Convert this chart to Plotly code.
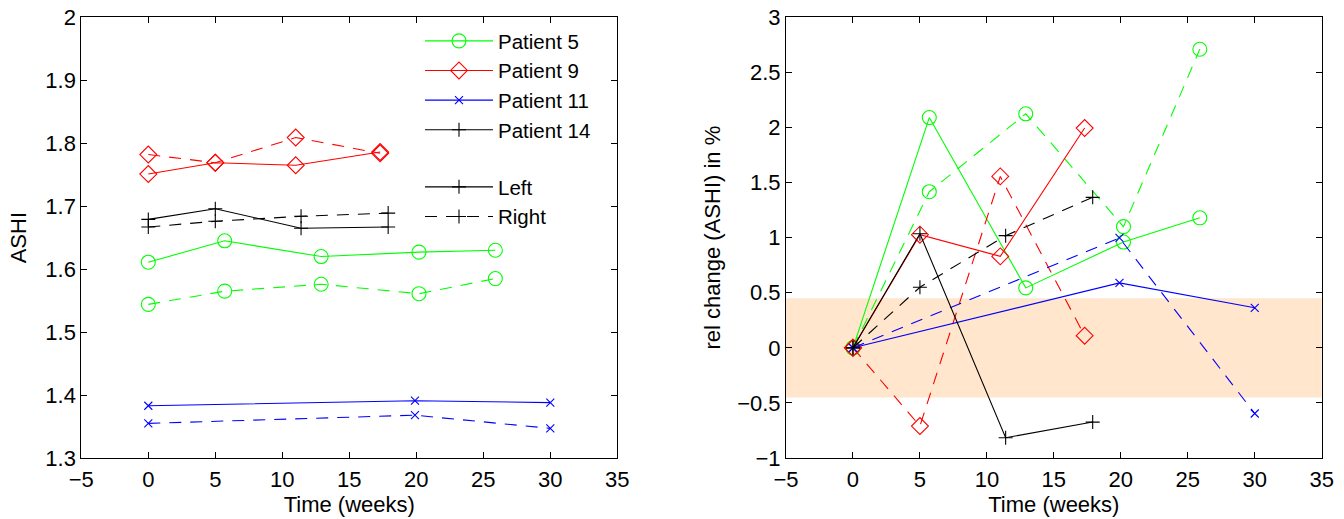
import plotly.graph_objects as go

# ---------------- data ----------------
P5_WEEKS = [0, 5.7, 12.9, 20.2, 25.9]
P9_WEEKS = [0, 5.0, 11.0, 17.3]
P11_WEEKS = [0, 19.9, 30.0]
P14_WEEKS = [0, 5.0, 11.4, 17.9]

P5_ASHI_LEFT = [1.611, 1.645, 1.620, 1.627, 1.630]
P5_ASHI_RIGHT = [1.544, 1.565, 1.576, 1.561, 1.585]
P9_ASHI_LEFT = [1.751, 1.769, 1.765, 1.786]
P9_ASHI_RIGHT = [1.782, 1.769, 1.809, 1.784]
P11_ASHI_LEFT = [1.383, 1.391, 1.388]
P11_ASHI_RIGHT = [1.355, 1.368, 1.347]
P14_ASHI_LEFT = [1.679, 1.696, 1.665, 1.667]
P14_ASHI_RIGHT = [1.667, 1.676, 1.684, 1.689]

P5_REL_LEFT = [0, 2.09, 0.544, 0.96, 1.18]
P5_REL_RIGHT = [0, 1.417, 2.124, 1.10, 2.71]
P9_REL_LEFT = [0, 1.027, 0.83, 1.995]
P9_REL_RIGHT = [0, -0.71, 1.556, 0.11]
P11_REL_LEFT = [0, 0.589, 0.363]
P11_REL_RIGHT = [0, 0.997, -0.596]
P14_REL_LEFT = [0, 1.036, -0.816, -0.674]
P14_REL_RIGHT = [0, 0.55, 1.018, 1.366]

BAND = [-0.45, 0.45]

PATIENTS = ["Patient 5", "Patient 9", "Patient 11", "Patient 14"]
X_RANGE = [-5, 35]
ASHI_RANGE = [1.3, 2.0]
REL_RANGE = [-1, 3]

# ---------------- styles ----------------
FONT = "Liberation Sans, Arial, sans-serif"
FS = 22
LFS = 20.5
DASH = "12px,9px"
LW = 1.1
STY = {
    "Patient 5": dict(color="rgb(0,255,0)", symbol="circle-open", size=14),
    "Patient 9": dict(color="rgb(255,0,0)", symbol="diamond-open", size=13),
    "Patient 11": dict(color="rgb(0,0,255)", symbol="x-thin-open", size=8),
    "Patient 14": dict(color="rgb(0,0,0)", symbol="cross-thin-open", size=10),
}

series = [
    ("Patient 5", P5_WEEKS, P5_ASHI_LEFT, P5_ASHI_RIGHT, P5_REL_LEFT, P5_REL_RIGHT),
    ("Patient 9", P9_WEEKS, P9_ASHI_LEFT, P9_ASHI_RIGHT, P9_REL_LEFT, P9_REL_RIGHT),
    ("Patient 11", P11_WEEKS, P11_ASHI_LEFT, P11_ASHI_RIGHT, P11_REL_LEFT, P11_REL_RIGHT),
    ("Patient 14", P14_WEEKS, P14_ASHI_LEFT, P14_ASHI_RIGHT, P14_REL_LEFT, P14_REL_RIGHT),
]

fig = go.Figure()


def add(name, x, y, xa, ya, dash, show):
    s = STY[name]
    fig.add_trace(go.Scatter(
        x=x, y=y, xaxis=xa, yaxis=ya, mode="lines+markers", name=name,
        showlegend=show, legend="legend",
        line=dict(color=s["color"], width=LW, dash=dash),
        marker=dict(symbol=s["symbol"], size=s["size"], color=s["color"],
                    line=dict(color=s["color"], width=1.1)),
        hoverinfo="x+y+name",
    ))


for name, wk, al, ar, rl, rr in series:
    add(name, wk, al, "x", "y", "solid", True)
    add(name, wk, ar, "x", "y", DASH, False)
    add(name, wk, rl, "x2", "y2", "solid", False)
    add(name, wk, rr, "x2", "y2", DASH, False)

# Left / Right legend entries
for lbl, dash in [("Left", "solid"), ("Right", DASH)]:
    fig.add_trace(go.Scatter(
        x=[None], y=[None], xaxis="x", yaxis="y", mode="lines+markers", name=lbl,
        legend="legend2",
        line=dict(color="black", width=LW, dash=dash),
        marker=dict(symbol="cross-thin-open", size=10, color="black",
                    line=dict(color="black", width=1.1)),
    ))

fig.add_shape(type="rect", xref="x2 domain", yref="y2", x0=0, x1=1,
              y0=BAND[0], y1=BAND[1], fillcolor="rgb(255,230,204)",
              line=dict(width=0), layer="below")

W, H = 1344, 519
ax_common = dict(
    showline=True, linecolor="black", linewidth=1, mirror="ticks",
    ticks="inside", ticklen=6, tickcolor="black", tickwidth=1,
    showgrid=False, zeroline=False, automargin=False,
    tickfont=dict(family=FONT, size=FS, color="black"),
)

fig.update_layout(
    template="none",
    width=W, height=H,
    margin=dict(l=0, r=0, t=0, b=0),
    paper_bgcolor="white", plot_bgcolor="white",
    font=dict(family=FONT, size=FS, color="black"),
    xaxis=dict(domain=[81.3 / W, 617.3 / W], range=X_RANGE, dtick=5, tick0=0,
               ticklabelstandoff=2,
               title=dict(text="Time (weeks)", font=dict(size=FS), standoff=5),
               anchor="y", **ax_common),
    yaxis=dict(domain=[1 - 458 / H, 1 - 17.3 / H], range=ASHI_RANGE, dtick=0.1, tick0=1.3,
               title=dict(text="ASHI", font=dict(size=FS), standoff=12),
               anchor="x", **ax_common),
    xaxis2=dict(domain=[786 / W, 1321.7 / W], range=X_RANGE, dtick=5, tick0=0,
                ticklabelstandoff=2,
                title=dict(text="Time (weeks)", font=dict(size=FS), standoff=5),
                anchor="y2", **ax_common),
    yaxis2=dict(domain=[1 - 458 / H, 1 - 17.3 / H], range=REL_RANGE, dtick=0.5, tick0=-1,
                title=dict(text="rel change (ASHI) in %", font=dict(size=FS), standoff=10),
                anchor="x2", **ax_common),
    legend=dict(x=420 / W, y=1 - 21 / H, xanchor="left", yanchor="top",
                bgcolor="rgba(0,0,0,0)", borderwidth=0, itemwidth=68,
                font=dict(family=FONT, size=LFS), tracegroupgap=0),
    legend2=dict(x=420 / W, y=1 - 167 / H, xanchor="left", yanchor="top",
                 bgcolor="rgba(0,0,0,0)", borderwidth=0, itemwidth=68,
                 font=dict(family=FONT, size=LFS), tracegroupgap=0),
    showlegend=True,
)

fig.write_html("out.html", config={"displayModeBar": False},
               post_script="document.body.style.margin='0px';document.body.style.overflow='hidden';")
